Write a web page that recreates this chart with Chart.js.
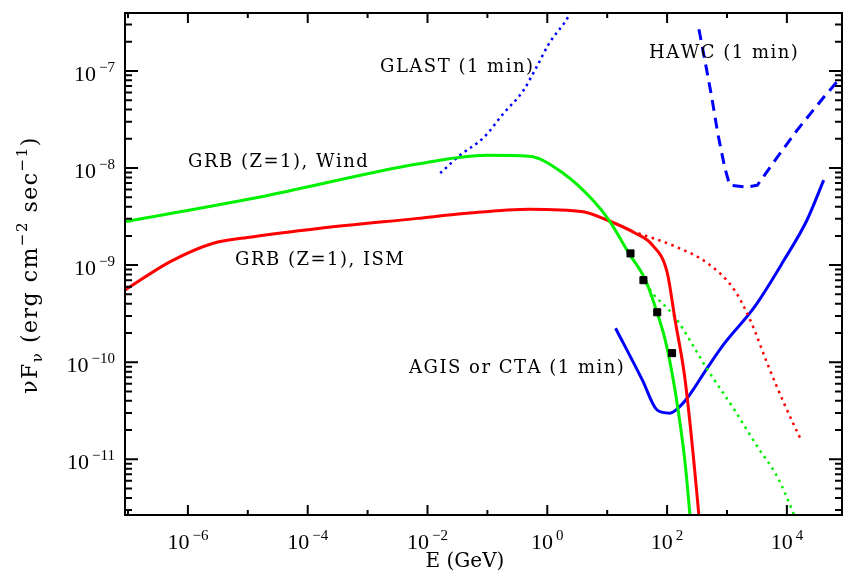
<!DOCTYPE html>
<html>
<head>
<meta charset="utf-8">
<script src="https://cdn.jsdelivr.net/npm/chart.js@4/dist/chart.umd.min.js"></script>
<style>
html,body{margin:0;padding:0;background:#fff}
#wrap{width:848px;height:583px;position:relative}
</style>
</head>
<body>
<div id="wrap"><canvas id="grafico"></canvas></div>
<script>
// E in GeV, nuFnu in erg cm^-2 s^-1
const windE = [8.9e-8, 2.24e-5, 6.8e-3, 0.098, 0.50, 1.84, 5.75, 10.7, 22.9, 43.6, 68.5, 93.1, 121, 153, 200, 251]
const windF = [2.79e-9, 5.25e-9, 1.10e-8, 1.355e-8, 1.32e-8, 8.85e-9, 4.68e-9, 2.90e-9, 1.33e-9, 7.0e-10, 3.21e-10, 1.69e-10, 7.73e-11, 3.21e-11, 9.14e-12, 2.0e-12]

const ismE = [8.9e-8, 5.0e-7, 2.57e-6, 1.17e-5, 1.51e-4, 6.8e-3, 0.041, 0.50, 3.98, 9.46, 29.6, 56.8, 100, 136, 200, 339, 363]
const ismF = [5.53e-10, 1.08e-9, 1.67e-9, 1.95e-9, 2.38e-9, 3.03e-9, 3.40e-9, 3.77e-9, 3.54e-9, 2.95e-9, 2.13e-9, 1.61e-9, 8.47e-10, 2.72e-10, 6.55e-11, 2.67e-12, 1.6e-12]

const windDotE = [39.8, 48.6, 136, 479, 1340, 3240, 6920, 13200, 15800]
const windDotF = [7.6e-10, 5.93e-10, 2.91e-10, 8.3e-11, 3.21e-11, 1.34e-11, 6.6e-12, 2.67e-12, 2.0e-12]

const ismDotE = [33.1, 136, 479, 1340, 2570, 4680, 8910, 17200]
const ismDotF = [2.13e-9, 1.56e-9, 1.04e-9, 5.51e-10, 2.53e-10, 9.8e-11, 3.8e-11, 1.58e-11]

const ctaE = [13.8, 38.7, 68.5, 112, 153, 224, 479, 912, 2860, 8910, 21600, 41200]
const ctaF = [2.24e-10, 6.55e-11, 3.21e-11, 2.99e-11, 3.37e-11, 4.38e-11, 8.9e-11, 1.57e-10, 3.69e-10, 1.12e-9, 2.90e-9, 7.5e-9]

const glastE = [0.0163, 0.035, 0.0873, 0.187, 0.401, 0.658, 1.08, 2.31, 2.51]
const glastF = [8.85e-9, 1.355e-8, 2.07e-8, 3.67e-8, 6.32e-8, 1.09e-7, 1.93e-7, 3.74e-7, 4.2e-7]

const hawcE = [340, 427, 557, 700, 914, 1110, 2200, 3210, 6890, 14800, 41200, 89100]
const hawcF = [2.69e-7, 1.29e-7, 5.35e-8, 2.29e-8, 1.02e-8, 6.65e-9, 6.35e-9, 6.65e-9, 1.29e-8, 2.45e-8, 5.36e-8, 9.3e-8]

const pontosE = [24.5, 40.3, 68.5, 121]
const pontosF = [1.32e-9, 7.0e-10, 3.27e-10, 1.24e-10]

const xTickExp = [-6, -4, -2, 0, 2, 4]
const yTickExp = [-7, -8, -9, -10, -11]

const rotulos = [
  {texto: "GLAST (1 min)", x: 380, y: 72},
  {texto: "HAWC (1 min)", x: 649, y: 58},
  {texto: "GRB (Z=1), Wind", x: 188, y: 167},
  {texto: "GRB (Z=1), ISM", x: 235, y: 265},
  {texto: "AGIS or CTA (1 min)", x: 409, y: 373}
]

function pares(es, fs){
  return es.map((e, i) => ({x: e, y: fs[i]}))
}

function potencia(ctx, exp, x, y, align){
  const base = "10"
  const sup = exp < 0 ? "\u2212" + Math.abs(exp) : String(exp)
  ctx.font = '22px "Liberation Serif"'
  const wb = ctx.measureText(base).width
  ctx.font = '15px "Liberation Serif"'
  const ws = ctx.measureText(sup).width
  const w = wb + 3 + ws
  const x0 = align === "right" ? x - w : x - w / 2
  ctx.font = '22px "Liberation Serif"'
  ctx.fillText(base, x0, y)
  ctx.font = '15px "Liberation Serif"'
  ctx.fillText(sup, x0 + wb + 3, y - 9)
}

// draws a row of pieces [text, size, shift] along the baseline
function linhaTexto(ctx, partes, x, y, espaco){
  let total = 0
  partes.forEach(p => {
    ctx.font = p[1] + 'px "DejaVu Serif"'
    total += ctx.measureText(p[0]).width + espaco * p[0].length
  })
  let cx = x - total / 2
  partes.forEach(p => {
    ctx.font = p[1] + 'px "DejaVu Serif"'
    for(const ch of p[0]){
      ctx.fillText(ch, cx, y + p[2])
      cx += ctx.measureText(ch).width + espaco
    }
  })
}

const moldura = {
  id: "moldura",
  afterDatasetsDraw(chart){
    const {ctx, chartArea: a, scales: {x, y}} = chart
    ctx.save()
    ctx.strokeStyle = "#000"
    ctx.fillStyle = "#000"
    ctx.lineWidth = 2
    ctx.strokeRect(a.left, a.top, a.right - a.left, a.bottom - a.top)
    ctx.beginPath()
    for(let d = -7; d <= 4; d++){
      const px = x.getPixelForValue(Math.pow(10, d))
      if(px < a.left - 1 || px > a.right + 1) continue
      const len = d % 2 === 0 ? 10 : 5
      ctx.moveTo(px, a.bottom); ctx.lineTo(px, a.bottom - len)
      ctx.moveTo(px, a.top); ctx.lineTo(px, a.top + len)
    }
    for(let d = -12; d <= -6; d++){
      for(let m = 1; m <= 9; m++){
        const py = y.getPixelForValue(m * Math.pow(10, d))
        if(py < a.top || py > a.bottom) continue
        const len = m === 1 ? 13 : 7
        ctx.moveTo(a.left, py); ctx.lineTo(a.left + len, py)
        ctx.moveTo(a.right, py); ctx.lineTo(a.right - len, py)
      }
    }
    ctx.stroke()

    ctx.textBaseline = "alphabetic"
    ctx.textAlign = "left"
    xTickExp.forEach(d => potencia(ctx, d, x.getPixelForValue(Math.pow(10, d)), 549, "center"))
    yTickExp.forEach(d => potencia(ctx, d, 115, y.getPixelForValue(Math.pow(10, d)) + 10, "right"))

    ctx.font = '18px "DejaVu Serif"'
    rotulos.forEach(r => {
      let cx = r.x
      for(const ch of r.texto){
        ctx.fillText(ch, cx, r.y)
        cx += ctx.measureText(ch).width + 1.5
      }
    })

    linhaTexto(ctx, [["E (GeV)", 20, 0]], 465, 567, 0)

    ctx.translate(37, 265)
    ctx.rotate(-Math.PI / 2)
    linhaTexto(ctx, [
      ["\u03bdF", 22, 0], ["\u03bd", 15, 5], [" (erg cm", 22, 0], ["\u2212" + "2", 15, -10],
      [" sec", 22, 0], ["\u2212" + "1", 15, -10], [")", 22, 0]
    ], 0, 0, 1.5)
    ctx.restore()
  }
}

const base = {showLine: true, pointRadius: 0, fill: false, cubicInterpolationMode: "monotone"}

new Chart(document.getElementById("grafico"), {
  type: "scatter",
  data: {
    datasets: [
      {...base, data: pares(pontosE, pontosF), showLine: false, pointRadius: 5, pointStyle: "rect", backgroundColor: "#000", borderColor: "#000"},
      {...base, data: pares(windE, windF), borderColor: "#00f000", borderWidth: 3},
      {...base, data: pares(ismE, ismF), borderColor: "#ff0000", borderWidth: 3},
      {...base, data: pares(windDotE, windDotF), borderColor: "#00f000", borderWidth: 2.5, borderDash: [2.5, 4.5]},
      {...base, data: pares(ismDotE, ismDotF), borderColor: "#ff0000", borderWidth: 2.5, borderDash: [2.5, 4.5]},
      {...base, data: pares(ctaE, ctaF), borderColor: "#0000ff", borderWidth: 3},
      {...base, data: pares(glastE, glastF), borderColor: "#0000ff", borderWidth: 2.5, borderDash: [2.5, 4]},
      {...base, data: pares(hawcE, hawcF), borderColor: "#0000ff", borderWidth: 3, borderDash: [11, 7], cubicInterpolationMode: "default", tension: 0}
    ]
  },
  options: {
    responsive: true,
    maintainAspectRatio: false,
    animation: false,
    layout: {padding: {left: 0, top: 13, right: 1, bottom: 0}},
    plugins: {legend: {display: false}, tooltip: {enabled: false}},
    scales: {
      x: {
        type: "logarithmic",
        min: 8.91e-8,
        max: 83200,
        grid: {display: false},
        border: {display: false},
        ticks: {display: false},
        afterFit(s){ s.height = 68 }
      },
      y: {
        type: "logarithmic",
        min: 2.67e-12,
        max: 3.95e-7,
        grid: {display: false},
        border: {display: false},
        ticks: {display: false},
        afterFit(s){ s.width = 125 }
      }
    }
  },
  plugins: [moldura]
})
</script>
</body>
</html>
